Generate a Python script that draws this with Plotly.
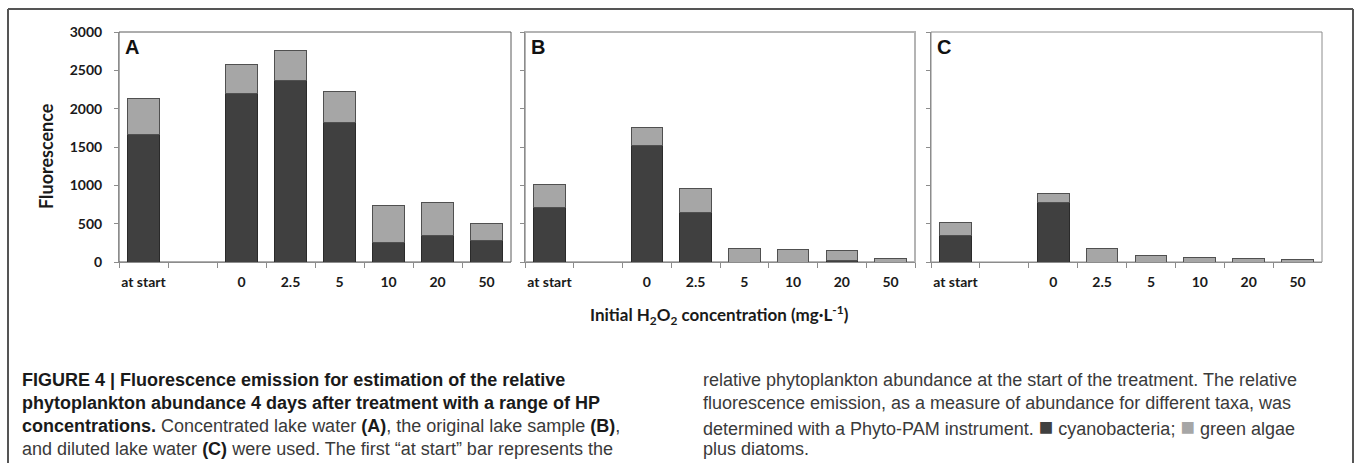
import plotly.graph_objects as go

# categorie (lo slot vuoto separa "at start" dai trattamenti)
categories = ["at start", " ", "0", "2.5", "5", "10", "20", "50"]

# fluorescenza: cianobatteri e alghe verdi + diatomee (impilate)
cyano_A = [1662, None, 2200, 2366, 1820, 258, 350, 285]
green_A = [468, None, 376, 389, 401, 481, 428, 214]

cyano_B = [705, None, 1525, 640, 0, 0, 20, 0]
green_B = [305, None, 230, 325, 175, 160, 125, 40]

cyano_C = [345, None, 770, 0, 0, 0, 0, 0]
green_C = [165, None, 120, 175, 85, 60, 50, 30]

panel_labels = ["A", "B", "C"]

DARK = "#404040"
LIGHT = "#a6a6a6"
AXIS = "#8c8c8c"
W, H = 1358, 463


def px(x):
    return x / W


def py(y):
    return 1 - y / H


PANELS = [(119, 511), (525, 915), (931, 1322)]
Y_TOP, Y_BOT = 32, 262
BORDERS = [("#5a5a5a", 1), ("#b4b4b4", 2), ("#8c8c8c", 1)]

fig = go.Figure()

data = [(cyano_A, green_A), (cyano_B, green_B), (cyano_C, green_C)]
for k, (cy, gr) in enumerate(data):
    sfx = "" if k == 0 else str(k + 1)
    fig.add_trace(go.Bar(
        x=categories, y=cy, xaxis="x" + sfx, yaxis="y" + sfx,
        marker=dict(color=DARK, line=dict(color="#2a2a2a", width=1)),
        showlegend=False, name="cyanobacteria",
    ))
    fig.add_trace(go.Bar(
        x=categories, y=gr, xaxis="x" + sfx, yaxis="y" + sfx,
        marker=dict(color=LIGHT, line=dict(color="#505050", width=1)),
        showlegend=False, name="green algae plus diatoms",
    ))

layout = dict(
    width=W, height=H,
    margin=dict(l=0, r=0, t=0, b=0),
    paper_bgcolor="white", plot_bgcolor="white",
    barmode="stack", bargap=0.35,
    template="none",
    font=dict(family="Lato, sans-serif", color="#1a1a1a"),
)

tick_font = dict(family="Lato, sans-serif", size=14, color="#1a1a1a", weight="bold")
shapes = []
annotations = []

for k, (x0, x1) in enumerate(PANELS):
    sfx = "" if k == 0 else str(k + 1)
    layout["xaxis" + sfx] = dict(
        domain=[px(x0), px(x1)], anchor="y" + sfx,
        type="category", range=[-0.5, 7.5],
        tickson="boundaries", ticks="outside", ticklen=5, tickcolor=AXIS,
        showline=True, linecolor=AXIS, linewidth=1,
        showgrid=False, zeroline=False, automargin=False,
        tickangle=0, tickfont=tick_font, ticklabelstandoff=7,
    )
    layout["yaxis" + sfx] = dict(
        domain=[py(Y_BOT), py(Y_TOP)], anchor="x" + sfx,
        range=[0, 3000], dtick=500, tick0=0,
        ticks="outside", ticklen=4, tickcolor=AXIS,
        showline=True, linecolor=AXIS, linewidth=1,
        showgrid=False, zeroline=False, automargin=False,
        showticklabels=(k == 0), tickfont=tick_font, ticklabelstandoff=9,
    )
    col, lw = BORDERS[k]
    shapes.append(dict(
        type="rect", xref=f"x{sfx} domain", yref=f"y{sfx} domain",
        x0=0, x1=1, y0=0, y1=1, layer="below",
        line=dict(color=col, width=lw),
    ))
    annotations.append(dict(
        text=f"<b>{panel_labels[k]}</b>", xref="paper", yref="paper",
        x=px(x0 + 4), y=py(47), xanchor="left", yanchor="middle",
        showarrow=False,
        font=dict(family="Liberation Sans, Arial, sans-serif", size=20, color="#111"),
    ))

# cornice esterna (aperta in basso)
frame = dict(xref="paper", yref="paper", line=dict(color="#555555", width=2))
shapes.append(dict(type="line", x0=px(8), x1=px(8), y0=0, y1=py(9), **frame))
shapes.append(dict(type="line", x0=px(8), x1=px(1353), y0=py(9), y1=py(9), **frame))
shapes.append(dict(type="line", x0=px(1353), x1=px(1353), y0=0, y1=py(9), **frame))

annotations.append(dict(
    text="<b>Fluorescence</b>", xref="paper", yref="paper",
    x=px(46), y=py(156), textangle=-90, showarrow=False,
    xanchor="center", yanchor="middle",
    font=dict(family="Lato, sans-serif", size=18, color="#1a1a1a"),
))
annotations.append(dict(
    text="<b>Initial H<sub>2</sub>O<sub>2</sub> concentration (mg·L<sup>-1</sup>)</b>",
    xref="paper", yref="paper", x=px(719), y=py(315), showarrow=False,
    xanchor="center", yanchor="middle",
    font=dict(family="Lato, sans-serif", size=17, color="#1a1a1a"),
))


def bold(txt):
    return f"<span style='color:#1a1a1a'><b>{txt}</b></span>"


def square(color):
    return f"<span style='font-size:24px;color:{color}'>\u25a0</span>"


left_lines = [
    bold("FIGURE 4 | Fluorescence emission for estimation of the relative"),
    bold("phytoplankton abundance 4 days after treatment with a range of HP"),
    bold("concentrations.") + " Concentrated lake water " + bold("(A)")
    + ", the original lake sample " + bold("(B)") + ",",
    "and diluted lake water " + bold("(C)")
    + " were used. The first \u201cat start\u201d bar represents the",
]
right_lines = [
    "relative phytoplankton abundance at the start of the treatment. The relative",
    "fluorescence emission, as a measure of abundance for different taxa, was",
    "determined with a Phyto-PAM instrument. " + square(DARK) + " cyanobacteria; "
    + square(LIGHT) + " green algae",
    "plus diatoms.",
]
cap_font = dict(family="Liberation Sans, Arial, sans-serif", size=18, color="#3a3a3a")
line_y = [380, 403, 426, 449]
for xs, lines in [(20, left_lines), (701, right_lines)]:
    for yy, txt in zip(line_y, lines):
        annotations.append(dict(
            text=txt, xref="paper", yref="paper", x=px(xs), y=py(yy),
            xanchor="left", yanchor="middle", showarrow=False, font=cap_font,
        ))

layout["shapes"] = shapes
layout["annotations"] = annotations
fig.update_layout(**layout)

# la pagina ha un margine di 8px sul body: lo azzero
fig.write_html(
    "out.html",
    config={"displayModeBar": False},
    post_script="document.body.style.margin='0';",
)
